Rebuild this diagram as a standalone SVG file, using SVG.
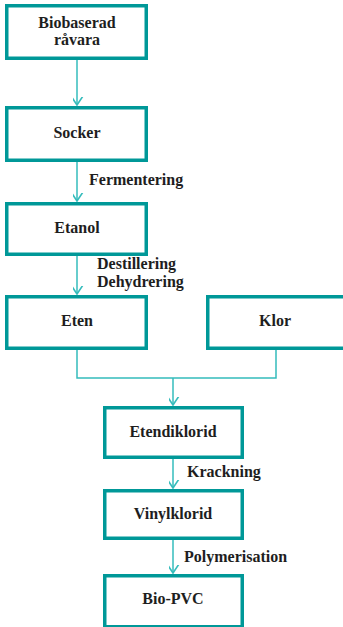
<svg xmlns="http://www.w3.org/2000/svg" width="343" height="627" viewBox="0 0 343 627">
  <style>
    .box { fill: #ffffff; stroke: #009898; stroke-width: 3.5; }
    .lbl { font-family: "Liberation Serif", "Times New Roman", serif; font-weight: bold; font-size: 16px; fill: #1e1e1e; }
    .mid { text-anchor: middle; }
    .wire { fill: none; stroke: #35bcbc; stroke-width: 1.5; }
  </style>
  <defs>
    <marker id="vhead" markerUnits="userSpaceOnUse" markerWidth="16" markerHeight="16" viewBox="-8 -12 16 16" refX="0" refY="0" orient="auto">
      <path d="M-9,-6 L0,0 L-9,6" fill="none" stroke="#35bcbc" stroke-width="1.6"/>
    </marker>
  </defs>
  <rect width="343" height="627" fill="#ffffff"/>

  <g id="connectors">
    <line class="wire" x1="77" y1="60" x2="77" y2="105" marker-end="url(#vhead)"/>
    <line class="wire" x1="77" y1="162" x2="77" y2="201" marker-end="url(#vhead)"/>
    <line class="wire" x1="77" y1="256" x2="77" y2="294" marker-end="url(#vhead)"/>
    <polyline class="wire" points="77,350 77,378 276,378 276,350"/>
    <line class="wire" x1="173" y1="378" x2="173" y2="405" marker-end="url(#vhead)"/>
    <line class="wire" x1="173" y1="459" x2="173" y2="488" marker-end="url(#vhead)"/>
    <line class="wire" x1="173" y1="540" x2="173" y2="573" marker-end="url(#vhead)"/>
    <text class="lbl" x="89" y="185">Fermentering</text>
    <text class="lbl" x="97" y="269">Destillering</text>
    <text class="lbl" x="97" y="287">Dehydrering</text>
    <text class="lbl" x="187" y="477">Krackning</text>
    <text class="lbl" x="184" y="562">Polymerisation</text>
  </g>

  <g id="biobaserad-ravara">
    <rect class="box" x="6.75" y="5.75" width="139.5" height="52.5"/>
    <text class="lbl mid" x="77" y="27.5">Biobaserad</text>
    <text class="lbl mid" x="77" y="45">råvara</text>
  </g>
  <g id="socker">
    <rect class="box" x="6.75" y="107.75" width="139.5" height="52.5"/>
    <text class="lbl mid" x="77" y="138">Socker</text>
  </g>
  <g id="etanol">
    <rect class="box" x="6.75" y="203.75" width="139.5" height="50.5"/>
    <text class="lbl mid" x="77" y="233">Etanol</text>
  </g>
  <g id="eten">
    <rect class="box" x="6.75" y="296.75" width="139.5" height="51.5"/>
    <text class="lbl mid" x="77" y="326">Eten</text>
  </g>
  <g id="klor">
    <rect class="box" x="207.75" y="296.75" width="140" height="51.5"/>
    <text class="lbl mid" x="275" y="326">Klor</text>
  </g>
  <g id="etendiklorid">
    <rect class="box" x="104.75" y="407.75" width="137.5" height="49.5"/>
    <text class="lbl mid" x="173" y="437">Etendiklorid</text>
  </g>
  <g id="vinylklorid">
    <rect class="box" x="104.75" y="490.75" width="137.5" height="47.5"/>
    <text class="lbl mid" x="173" y="519">Vinylklorid</text>
  </g>
  <g id="bio-pvc">
    <rect class="box" x="104.75" y="575.75" width="137.5" height="51"/>
    <text class="lbl mid" x="173" y="604">Bio-PVC</text>
  </g>
</svg>
